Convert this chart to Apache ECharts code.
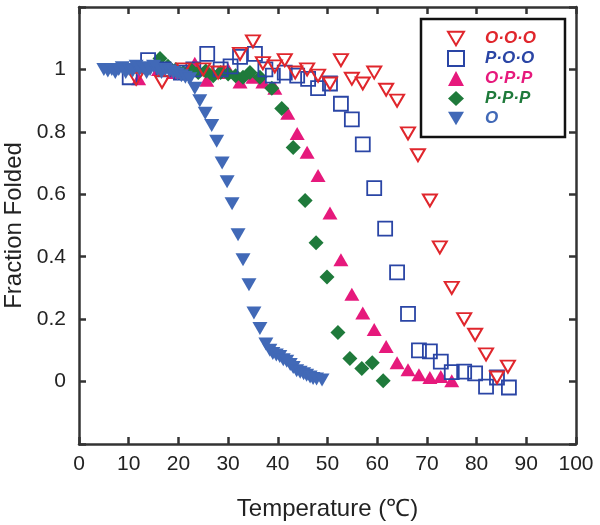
<!DOCTYPE html>
<html><head><meta charset="utf-8">
<script src="https://cdn.jsdelivr.net/npm/echarts@6/dist/echarts.min.js"></script>
<style>html,body{margin:0;padding:0;background:#fff}#c{width:600px;height:525px}</style>
</head><body><div id="c"></div>
<script>
// ---- data (temperature °C, fraction folded) ----
const seriesNames = ['O·O·O', 'P·O·O', 'O·P·P', 'P·P·P', 'O'];

const oooT = [11.5,16.7,21,25,28,32.4,35,37,39.4,41.4,43.5,45.9,48.1,50.5,52.7,54.9,57.1,59.4,61.8,64,66.2,68.2,70.6,72.6,75,77.5,79.7,81.9,84.1,86.3];
const oooY = [0.97,0.96,1.0,1.0,0.99,1.05,1.09,1.02,1.01,1.03,0.99,1.0,0.98,0.955,1.03,0.97,0.955,0.99,0.935,0.90,0.795,0.725,0.58,0.43,0.30,0.20,0.15,0.087,0.013,0.048];

const pooT = [10.2,13.9,17,20.5,23,25.8,28.5,30.5,32.4,35.4,37.5,39,41.4,43.9,46.1,48.1,50.5,52.7,54.9,57.1,59.4,61.6,64,66.2,68.4,70.6,72.8,75,77.5,79.7,81.9,84.1,86.5];
const pooY = [0.975,1.03,1.0,0.99,1.0,1.05,1.0,1.01,1.04,1.05,1.0,0.98,0.99,0.98,0.97,0.94,0.955,0.89,0.84,0.76,0.62,0.49,0.35,0.217,0.10,0.097,0.064,0.03,0.032,0.026,-0.016,0.013,-0.019];

const oppT = [12,16,19,23.3,25.7,28,30,32.4,35,37,39.4,42,43.9,45.9,48.1,50.5,52.7,54.9,57.1,59.4,61.8,64,66.2,68.4,70.6,72.8,75];
const oppY = [0.97,1.0,0.99,1.02,0.965,0.99,1.0,0.96,0.975,0.96,0.94,0.86,0.795,0.735,0.66,0.54,0.39,0.28,0.22,0.167,0.112,0.06,0.038,0.022,0.013,0.016,0.003];

const pppT = [16.3,17.9,19.5,21,22.5,24,25.5,27,28.5,30,31.5,33,34.4,36.4,38.8,40.8,43.1,45.5,47.7,49.9,52.1,54.5,56.9,59,61.2];
const pppY = [1.035,1.01,1.0,0.99,1.0,0.99,0.995,0.98,0.99,0.985,0.98,0.975,0.99,0.975,0.94,0.875,0.75,0.58,0.445,0.335,0.157,0.074,0.042,0.06,0.003];

const oT = [5,5.8,6.6,7.3,8,8.7,9.4,10.1,10.8,11.5,12.2,12.9,13.6,14.3,15,15.8,16.6,17.4,18.2,19,19.8,20.6,21.4,22.3,23.3,24.3,25.4,26.7,27.7,28.8,29.8,30.8,32,33,34.2,35.2,36.4,37.6,38.4,39,39.7,40.4,41.1,41.8,42.5,43.1,43.8,44.5,45.2,45.8,46.5,47.1,47.8,48.9];
const oY = [1.0,0.995,1.0,0.99,1.0,1.005,0.99,1.0,0.995,1.01,1.0,1.005,0.99,1.0,1.01,1.0,0.99,1.0,0.995,0.99,0.985,0.98,0.975,0.97,0.94,0.90,0.86,0.82,0.77,0.70,0.64,0.57,0.47,0.39,0.31,0.22,0.17,0.12,0.10,0.09,0.085,0.08,0.07,0.065,0.055,0.045,0.035,0.03,0.025,0.02,0.015,0.01,0.008,0.005];

const xTickLabels = ['0','10','20','30','40','50','60','70','80','90','100'];
const yTickLabels = ['0','0.2','0.4','0.6','0.8','1'];

const pairs = (xs, ys) => xs.map((x, i) => [x, ys[i]]);

const C = {
  ooo: '#e0262c', poo: '#2a45a5', opp: '#e6197c', ppp: '#1f7a3b', o: '#4169b7'
};
const FONT = '"Liberation Sans", Arial, sans-serif';
const AX = '#333';
const DOWN_TRI = 'path://M0,0L14,0L7,12Z';

const chart = echarts.init(document.getElementById('c'), null, {renderer: 'canvas'});

const baseAxis = {
  axisLine: {show: true, onZero: false, lineStyle: {color: AX, width: 2.5}},
  axisTick: {show: true, inside: true, length: 7, lineStyle: {color: AX, width: 2.5}},
  splitLine: {show: false}
};

chart.setOption({
  animation: false,
  backgroundColor: '#fff',
  grid: {left: 79, right: 24, top: 7, bottom: 81, containLabel: false, outerBoundsMode: 'none'},
  xAxis: [
    Object.assign({}, baseAxis, {
      type: 'value', position: 'bottom', min: 0, max: 100, interval: 10,
      axisLabel: {fontSize: 21, color: '#222', fontFamily: FONT, margin: 10,
        formatter: v => xTickLabels[Math.round(v / 10)] || ''},
      name: 'Temperature (℃)', nameLocation: 'middle', nameGap: 53,
      nameTextStyle: {fontSize: 24, color: '#222', fontFamily: FONT}
    }),
    Object.assign({}, baseAxis, {
      type: 'value', position: 'top', min: 0, max: 100, interval: 10,
      axisLabel: {show: false}
    })
  ],
  yAxis: [
    Object.assign({}, baseAxis, {
      type: 'value', position: 'left', min: -0.2, max: 1.2, interval: 0.2,
      axisLabel: {fontSize: 21, color: '#222', fontFamily: FONT, margin: 13,
        formatter: v => {
          const idx = Math.round(v / 0.2);
          return (idx >= 0 && idx < yTickLabels.length) ? yTickLabels[idx] : '';
        }},
      name: 'Fraction Folded', nameLocation: 'middle', nameGap: 51,
      nameTextStyle: {fontSize: 24, color: '#222', fontFamily: FONT}
    }),
    Object.assign({}, baseAxis, {
      type: 'value', position: 'right', min: -0.2, max: 1.2, interval: 0.2,
      axisLabel: {show: false}
    })
  ],
  legend: {
    orient: 'vertical', left: 421, top: 19,
    padding: [11, 29, 10, 26],
    itemWidth: 16, itemHeight: 15, itemGap: 3,
    borderColor: '#111', borderWidth: 2.5, backgroundColor: '#fff',
    textStyle: {fontSize: 17, fontWeight: 'bold', fontStyle: 'italic', fontFamily: FONT,
      padding: [0, 0, 0, 16]},
    data: [
      {name: seriesNames[0], textStyle: {color: C.ooo}},
      {name: seriesNames[1], textStyle: {color: C.poo}},
      {name: seriesNames[2], textStyle: {color: C.opp}},
      {name: seriesNames[3], textStyle: {color: C.ppp}},
      {name: seriesNames[4], textStyle: {color: C.o}}
    ]
  },
  series: [
    {name: seriesNames[2], type: 'scatter', data: pairs(oppT, oppY),
      symbol: 'triangle', symbolSize: [15, 13], itemStyle: {color: C.opp, opacity: 1}, z: 2},
    {name: seriesNames[3], type: 'scatter', data: pairs(pppT, pppY),
      symbol: 'diamond', symbolSize: [15, 15], itemStyle: {color: C.ppp, opacity: 1}, z: 3},
    {name: seriesNames[1], type: 'scatter', data: pairs(pooT, pooY),
      symbol: 'rect', symbolSize: [14, 14],
      itemStyle: {color: 'rgba(255,255,255,0)', borderColor: C.poo, borderWidth: 1.8, opacity: 1}, z: 4},
    {name: seriesNames[0], type: 'scatter', data: pairs(oooT, oooY),
      symbol: DOWN_TRI, symbolSize: [14, 12],
      itemStyle: {color: 'rgba(255,255,255,0)', borderColor: C.ooo, borderWidth: 2, opacity: 1}, z: 5},
    {name: seriesNames[4], type: 'scatter', data: pairs(oT, oY),
      symbol: DOWN_TRI, symbolSize: [15, 13],
      itemStyle: {color: C.o, opacity: 1}, z: 6}
  ]
});
</script></body></html>
